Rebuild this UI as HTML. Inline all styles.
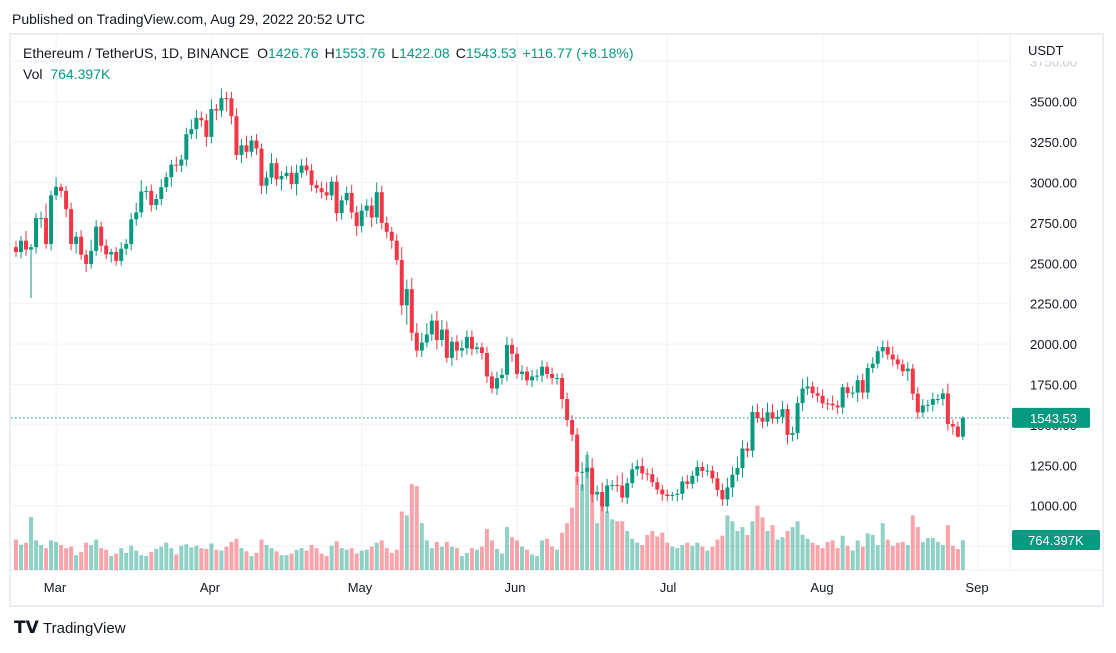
<!DOCTYPE html>
<html><head><meta charset="utf-8">
<style>
body{margin:0;background:#fff;width:1116px;height:648px;overflow:hidden;font-family:"Liberation Sans",sans-serif;}
svg text{font-family:"Liberation Sans",sans-serif;}
</style></head>
<body>
<svg id="c" width="1116" height="648" xmlns="http://www.w3.org/2000/svg">
<text x="12" y="24" font-size="14" fill="#131722">Published on TradingView.com, Aug 29, 2022 20:52 UTC</text>
<rect x="10" y="34" width="1093" height="572" fill="none" stroke="#eceef3" stroke-width="2"/>
<line x1="1010" y1="35" x2="1010" y2="570" stroke="#eceef3"/>
<line x1="11" y1="570" x2="1102" y2="570" stroke="#eceef3"/>
<g id="grid"></g>
<g id="vol"></g>
<g id="candles"></g>
<g id="axis"></g>
<g id="taxis"></g>
<text x="1028" y="55" font-size="13" fill="#131722">USDT</text>
<text x="23" y="58" font-size="14" fill="#131722">Ethereum / TetherUS, 1D, BINANCE <tspan dx="4">O</tspan><tspan fill="#089981">1426.76</tspan><tspan dx="6">H</tspan><tspan fill="#089981">1553.76</tspan><tspan dx="6">L</tspan><tspan fill="#089981">1422.08</tspan><tspan dx="6">C</tspan><tspan fill="#089981">1543.53</tspan><tspan dx="6" fill="#089981">+116.77 (+8.18%)</tspan></text>
<text x="23" y="79" font-size="14" fill="#131722">Vol <tspan dx="4" fill="#089981">764.397K</tspan></text>
<g>
<text x="14" y="633" font-size="17" font-weight="bold" fill="#131722">𝗧𝗩</text>
<text x="43" y="633" font-size="15" fill="#131722">TradingView</text>
</g>
</svg>
<script>
const closes=[2570,2640,2585,2600,2780,2780,2620,2920,
2973,2948,2835,2620,2665,2553,2496,2577,2727,2609,2555,2570,2515,2590,2620,2772,2815,2945,2948,2860,2898,2971,3033,3110,3105,3142,3299,3330,3400,3385,3282,
3455,3445,3522,3521,3410,3170,3230,3190,3260,3210,2980,3030,3120,3020,3040,3060,2990,3060,3105,3075,2985,2965,2940,2920,3005,2810,2890,2935,2815,2730,
2826,2857,2784,2940,2750,2695,2640,2520,2240,2340,2070,1960,2010,2060,2145,2025,2090,1915,2015,1960,1975,2045,1970,1980,1945,1800,1725,1790,1810,1995,1940,
1815,1830,1775,1800,1805,1860,1815,1790,1790,1660,1530,1440,1210,1210,1235,1070,1085,995,1125,1128,1125,1050,1140,1225,1245,1200,1195,1145,1100,1070,
1060,1067,1074,1150,1135,1185,1240,1215,1217,1169,1097,1039,1113,1192,1233,1354,1340,1580,1543,1520,1578,1538,1550,1598,1438,1450,1635,1725,1738,1696,1680,
1633,1632,1620,1608,1733,1697,1700,1777,1700,1852,1879,1956,1982,1935,1905,1875,1832,1848,1693,1577,1620,1624,1660,1660,1695,1505,1490,1427,1543.53];
const highWick=[40,30,60,20,30,40,90,30,
60,20,30,40,30,40,30,70,40,30,40,20,30,40,30,40,60,70,30,40,30,50,30,30,50,30,40,60,50,40,40,
60,30,60,40,40,50,40,60,30,40,30,40,60,30,30,40,40,50,40,50,40,30,40,60,30,40,30,40,50,40,
40,40,50,60,40,40,30,40,80,60,70,60,60,70,40,60,60,50,30,40,50,40,40,30,30,40,30,40,40,50,40,
40,40,30,40,40,40,30,40,30,30,40,30,40,60,100,60,40,60,40,30,60,80,30,40,40,50,30,40,30,30,
30,20,30,30,40,30,40,30,40,30,40,40,60,50,70,50,40,40,50,60,60,50,40,50,30,40,40,60,60,30,40,
40,30,50,30,20,30,40,30,40,30,40,30,40,40,50,30,30,40,30,40,40,30,40,30,30,60,30,30,10];
const lowWick=[30,40,40,300,40,60,30,40,
30,40,50,40,60,30,50,30,30,40,30,50,30,30,40,40,40,30,50,40,30,40,30,60,40,40,40,30,60,40,60,
40,60,40,80,50,30,50,40,30,40,50,50,40,40,70,20,30,70,30,30,40,30,40,30,30,50,40,30,40,60,
40,40,60,40,40,40,50,30,60,120,50,40,40,30,40,60,40,30,50,60,40,40,40,30,40,40,30,40,40,40,
50,30,40,30,40,30,40,30,40,40,60,40,40,80,120,40,50,40,30,40,30,40,30,40,30,40,40,40,30,30,
40,30,30,40,40,30,30,40,40,30,30,40,40,40,60,40,60,40,40,30,40,30,30,30,40,60,40,40,50,40,30,
40,30,40,30,40,40,30,30,60,40,40,30,30,40,30,40,30,30,60,40,40,30,40,40,30,40,40,50,5];
const volumesK=[780,650,700,1360,760,640,560,760,
720,640,560,600,380,460,700,640,780,560,520,360,420,560,440,620,500,380,360,460,540,600,700,560,400,620,660,580,620,560,540,
680,520,500,600,720,800,560,480,360,440,780,640,560,480,380,380,420,520,560,500,640,560,420,360,620,740,560,520,560,420,
500,520,600,700,760,560,440,520,1500,1400,2200,2150,1200,760,560,720,600,720,600,560,360,440,560,520,600,1050,760,540,420,1100,840,
760,600,520,400,360,760,800,600,520,960,1200,1600,2400,2200,2950,2050,1200,1900,1500,1300,1250,1250,1000,800,700,640,900,1000,860,960,
700,600,560,640,700,620,700,600,500,600,780,880,1400,1250,1000,1100,900,1250,1650,1350,1000,1150,780,840,1000,1100,1250,900,800,700,640,
560,720,760,560,880,620,500,760,600,940,900,640,1200,780,620,700,720,640,1400,1100,720,820,820,720,640,1150,620,540,764.397];
const priceTicks=[3750,3500,3250,3000,2750,2500,2250,2000,1750,1500,1250,1000,750];
const monthLabels=["Mar","Apr","May","Jun","Jul","Aug","Sep"];
const monthDayIdx=[8,39,69,100,130,161,192];
const monthLabelX=[55,210,360,515,668,822,977];

const NS="http://www.w3.org/2000/svg";
function y(p){return 101.7+(3500-p)*0.1616;}
function x(i){return 16+i*5.01;}
function vh(v){return v*0.039;}
function mk(t,a,parent){const e=document.createElementNS(NS,t);for(const k in a)e.setAttribute(k,a[k]);parent.appendChild(e);return e;}
const grid=document.getElementById('grid'),vol=document.getElementById('vol'),cg=document.getElementById('candles'),ax=document.getElementById('axis'),tx=document.getElementById('taxis');
priceTicks.forEach(p=>{
  const yy=y(p);
  if(yy>40&&yy<568){const l=mk('line',{x1:11,x2:1010,y1:yy,y2:yy,stroke:'#f0f2f6'},grid);
  
  }
  if(p===3750){const t=mk('text',{x:1030,y:yy+5,'font-size':13,fill:'#c8cad0'},ax);t.textContent=p.toFixed(2);
  
  
  mk('rect',{x:1012,y:yy-8,width:88,height:8,fill:'#fff'},ax);}
  else if(p!==750){const t=mk('text',{x:1030,y:yy+5,'font-size':13,fill:'#131722'},ax);t.textContent=p.toFixed(2);
  
  }
});
monthDayIdx.forEach((d,k)=>{
  const xx=x(d);
  const l=mk('line',{x1:xx,x2:xx,y1:35,y2:570,stroke:'#f0f2f6'},grid);
  
  
  const t=mk('text',{x:monthLabelX[k],y:592,'font-size':13,fill:'#131722','text-anchor':'middle'},tx);t.textContent=monthLabels[k];
  
  
});
closes.forEach((c,i)=>{
  const o=i===0?2600:closes[i-1];
  const up=c>=o;
  const col=up?'#089981':'#f23645';
  const hw=highWick[i]===undefined?20:highWick[i];
  const lw=lowWick[i]===undefined?20:lowWick[i];
  const vv=volumesK[i]===undefined?600:volumesK[i];
  const hi=Math.max(o,c)+hw,lo=Math.min(o,c)-lw;
  const xx=x(i);
  const vb=mk('rect',{x:xx-2,y:570-vh(vv),width:4,height:vh(vv),fill:up?'rgba(8,153,129,0.45)':'rgba(242,54,69,0.45)'},vol);
  
  
  const w=mk('line',{x1:xx,x2:xx,y1:y(hi),y2:y(lo),stroke:col,'stroke-width':1},cg);
  
  
  const top=y(Math.max(o,c)),bh=Math.max(1,y(Math.min(o,c))-top);
  const b=mk('rect',{x:xx-2,y:top,width:4,height:bh,fill:col},cg);
  
  
});
const last=closes[closes.length-1];
const pl=mk('line',{x1:11,x2:1010,y1:y(last),y2:y(last),stroke:'#089981','stroke-dasharray':'1.5 2.5'},ax);


const pr=mk('rect',{x:1012,y:y(last)-10,width:78,height:20,rx:2,fill:'#089981'},ax);


const pt=mk('text',{x:1030,y:y(last)+5,'font-size':13,fill:'#fff'},ax);pt.textContent=last.toFixed(2);


const lv=764.397;
const vr=mk('rect',{x:1012,y:530,width:88,height:20,rx:2,fill:'#089981'},ax);


const vt=mk('text',{x:1028,y:545,'font-size':13,fill:'#fff'},ax);vt.textContent=lv.toFixed(3)+'K';


</script>
</body></html>
